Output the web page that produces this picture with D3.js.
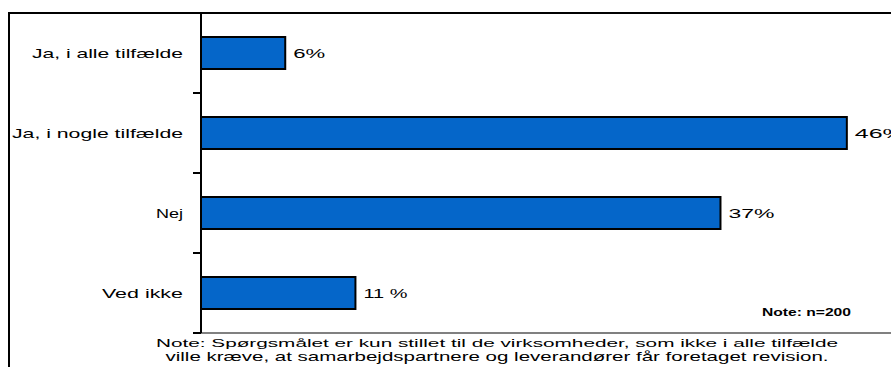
<!DOCTYPE html>
<html><head><meta charset="utf-8">
<script src="https://cdn.jsdelivr.net/npm/d3@7"></script>
<style>
html,body{margin:0;padding:0;background:#fff;overflow:hidden;}
text{font-family:"Liberation Sans",Arial,sans-serif;fill:#000;}
</style></head>
<body>
<svg id="chart" width="891" height="367"></svg>
<script>
const categories = ["Ja, i alle tilfælde", "Ja, i nogle tilfælde", "Nej", "Ved ikke"];
const values = [6, 46, 37, 11];
const valueLabels = ["6%", "46%", "37%", "11 %"];
const categoryLabelWidths = [151, 171, 27, 81];
const valueLabelWidths = [32, 50, 46, 44];
const noteText = "Note: n=200";
const footnoteLines = [
  "Note: Spørgsmålet er kun stillet til de virksomheder, som ikke i alle tilfælde",
  "ville kræve, at samarbejdspartnere og leverandører får foretaget revision."
];
const footnoteWidths = [682, 663];

const svg = d3.select("#chart");
const axisX = 201, plotTop = 13, plotBottom = 333;

const x = d3.scaleLinear().domain([0, 50]).range([axisX, axisX + 702]);
const y = d3.scaleBand().domain(categories).range([plotTop, plotBottom])
  .paddingInner(0.6).paddingOuter(0.3);

// outer frame
svg.append("line").attr("x1", 9).attr("x2", 9).attr("y1", 12).attr("y2", 367)
  .attr("stroke", "#000").attr("stroke-width", 2);
svg.append("line").attr("x1", 8).attr("x2", 891).attr("y1", 13).attr("y2", 13)
  .attr("stroke", "#000").attr("stroke-width", 2);

// bottom (x) baseline, grey
svg.append("line").attr("x1", axisX).attr("x2", 891).attr("y1", plotBottom).attr("y2", plotBottom)
  .attr("stroke", "#808080").attr("stroke-width", 2);

// bars
const g = svg.append("g");
g.selectAll("rect.bar").data(values).join("rect")
  .attr("class", "bar")
  .attr("x", x(0))
  .attr("y", (d, i) => y(categories[i]))
  .attr("width", d => x(d) - x(0))
  .attr("height", y.bandwidth())
  .attr("fill", "#0566c9")
  .attr("stroke", "#000").attr("stroke-width", 2);

// value labels
g.selectAll("text.val").data(values).join("text")
  .attr("class", "val")
  .attr("x", d => x(d) + 8)
  .attr("y", (d, i) => y(categories[i]) + y.bandwidth() / 2)
  .attr("dy", "0.35em")
  .attr("font-size", 13)
  .attr("textLength", (d, i) => valueLabelWidths[i])
  .attr("lengthAdjust", "spacingAndGlyphs")
  .text((d, i) => valueLabels[i]);

// y axis line + ticks at band boundaries
svg.append("line").attr("x1", axisX).attr("x2", axisX).attr("y1", plotTop).attr("y2", plotBottom)
  .attr("stroke", "#000").attr("stroke-width", 2);
const step = y.step();
const boundaries = categories.map((c, i) => plotTop + step * (i + 1));
svg.selectAll("line.tick").data(boundaries).join("line")
  .attr("class", "tick")
  .attr("x1", axisX - 8).attr("x2", axisX)
  .attr("y1", d => d).attr("y2", d => d)
  .attr("stroke", "#000").attr("stroke-width", 2);

// category labels
svg.selectAll("text.cat").data(categories).join("text")
  .attr("class", "cat")
  .attr("x", 183)
  .attr("y", d => y(d) + y.bandwidth() / 2)
  .attr("dy", "0.35em")
  .attr("text-anchor", "end")
  .attr("font-size", 13)
  .attr("textLength", (d, i) => categoryLabelWidths[i])
  .attr("lengthAdjust", "spacingAndGlyphs")
  .text(d => d);

// note n=200
svg.append("text").attr("x", 762).attr("y", 316)
  .attr("font-size", 11).attr("font-weight", "bold")
  .attr("textLength", 89).attr("lengthAdjust", "spacingAndGlyphs")
  .text(noteText);

// footnote
svg.selectAll("text.foot").data(footnoteLines).join("text")
  .attr("class", "foot")
  .attr("x", 497)
  .attr("y", (d, i) => 347 + i * 14)
  .attr("text-anchor", "middle")
  .attr("font-size", (d, i) => i === 0 ? 11 : 13)
  .attr("textLength", (d, i) => footnoteWidths[i])
  .attr("lengthAdjust", "spacingAndGlyphs")
  .text(d => d);
</script>
</body></html>
